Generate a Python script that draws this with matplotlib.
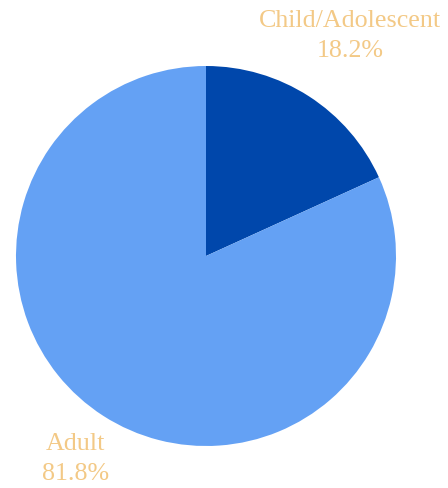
import matplotlib
matplotlib.use("Agg")
import matplotlib.pyplot as plt

categories = ["Child/Adolescent", "Adult"]
shares = [18.2, 81.8]
colors = ["#0047AB", "#64A1F4"]
label_color = "#F3C986"

W, H = 448, 489
fig = plt.figure(figsize=(W / 100, H / 100), dpi=100)
cx, cy, r = 206, 257, 190
ax = fig.add_axes([(cx - r) / W, (H - cy - r) / H, 2 * r / W, 2 * r / H])
ax.pie(shares, colors=colors, startangle=90, counterclock=False,
       radius=1, wedgeprops=dict(linewidth=0))
ax.set_xlim(-1, 1)
ax.set_ylim(-1, 1)
ax.axis("off")

label_pos = [(0.758, 1.163), (-0.689, -1.063)]
for name, val, (x, y) in zip(categories, shares, label_pos):
    ax.text(x, y, f"{name}\n{val:.1f}%", ha="center", va="center",
            color=label_color, fontsize=18.7, family="Liberation Serif",
            linespacing=1.45, clip_on=False)

fig.savefig("out.png", dpi=100)
